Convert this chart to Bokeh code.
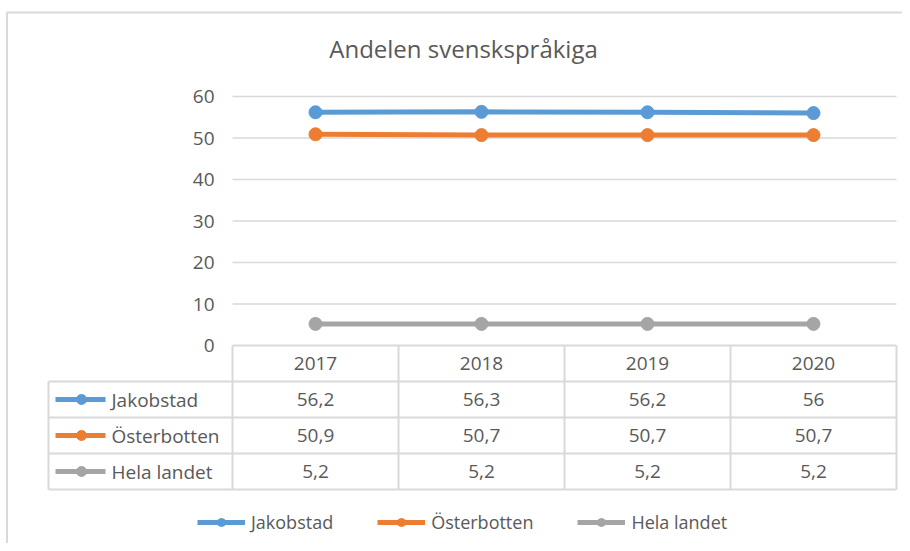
from bokeh.plotting import figure
from bokeh.models import Range1d, Legend, LegendItem
from bokeh.core.properties import value
from bokeh.embed import file_html
from bokeh.resources import INLINE

# ---------------- data ----------------
title_text = "Andelen svenskspråkiga"
years = ["2017", "2018", "2019", "2020"]
series_names = ["Jakobstad", "Österbotten", "Hela landet"]
jakobstad = [56.2, 56.3, 56.2, 56.0]
osterbotten = [50.9, 50.7, 50.7, 50.7]
hela_landet = [5.2, 5.2, 5.2, 5.2]
y_ticks = [0, 10, 20, 30, 40, 50, 60]

series_values = [jakobstad, osterbotten, hela_landet]
colors = ["#5B9BD5", "#ED7D31", "#A5A5A5"]

FONT = "Open Sans"
TEXT_COLOR = "#595959"
GRID = "#D9D9D9"

# ---------------- layout (pixels -> data) ----------------
W, H = 902, 543
OFF = 0
CAT_PX = 166.0
X0 = 315.0
VAL_PX = 249.0 / 60.0
Y0 = 345.0


def X(px):
    return (px - X0) / CAT_PX


def Y(py):
    return (Y0 - py) / VAL_PX


def fmt(v):
    return ("%g" % v).replace(".", ",")


p = figure(width=W, height=H, output_backend="svg", toolbar_location=None,
           x_range=Range1d(X(OFF), X(OFF + W)), y_range=Range1d(Y(OFF + H), Y(OFF)),
           min_border=0, x_axis_location=None, y_axis_location=None,
           outline_line_color=None, background_fill_color="white",
           border_fill_color="white")
p.grid.visible = False

n = len(years)
idx = list(range(n))
left_edge = -0.5
right_edge = n - 0.5

# chart outer border
p.segment(x0=[X(6.5), X(6)], y0=[Y(12), Y(12)],
          x1=[X(6.5), X(OFF + W)], y1=[Y(OFF + H), Y(12)],
          line_color="#D9D9D9", line_width=2)

# title
p.text(x=[X(463)], y=[Y(48)], text=[title_text], text_align="center",
       text_baseline="middle", text_font=value(FONT), text_font_size="24px",
       text_color=TEXT_COLOR)

# gridlines
gy = [t for t in y_ticks if t != 0]
p.segment(x0=[left_edge] * len(gy), x1=[right_edge] * len(gy), y0=gy, y1=gy,
          line_color=GRID, line_width=1.5)

# y tick labels
p.text(x=[X(214)] * len(y_ticks), y=y_ticks, text=[str(t) for t in y_ticks],
       text_align="right", text_baseline="middle", text_font=value(FONT),
       text_font_size="19px", text_color=TEXT_COLOR)

# series
legend_items = []
for name, vals, c in zip(series_names, series_values, colors):
    lr = p.line(x=idx, y=vals, line_color=c, line_width=5)
    sr = p.scatter(x=idx, y=vals, size=13, fill_color=c, line_color=c)
    legend_items.append(LegendItem(label=name, renderers=[lr, sr]))

# data table
row_tops = [345, 381, 417, 453, 489]
tl = dict(line_color=GRID, line_width=2)
p.segment(x0=[left_edge], x1=[right_edge], y0=[Y(row_tops[0])], y1=[Y(row_tops[0])], **tl)
hy = [Y(r) for r in row_tops[1:]]
p.segment(x0=[X(48)] * len(hy), x1=[right_edge] * len(hy), y0=hy, y1=hy, **tl)
p.segment(x0=[X(48)], x1=[X(48)], y0=[Y(row_tops[1])], y1=[Y(row_tops[-1])], **tl)
vx = [i - 0.5 for i in range(n + 1)]
p.segment(x0=vx, x1=vx, y0=[Y(row_tops[0])] * len(vx), y1=[Y(row_tops[-1])] * len(vx), **tl)

txt = dict(text_font=value(FONT), text_font_size="19px", text_color=TEXT_COLOR,
           text_baseline="middle")
p.text(x=idx, y=[Y(363)] * n, text=years, text_align="center", **txt)
for r, (name, vals, c) in enumerate(zip(series_names, series_values, colors)):
    cy = Y(399 + 36 * r)
    p.text(x=idx, y=[cy] * n, text=[fmt(v) for v in vals], text_align="center", **txt)
    p.line(x=[X(55), X(105)], y=[cy, cy], line_color=c, line_width=5)
    p.scatter(x=[X(81)], y=[cy], size=10, fill_color=c, line_color=c)
    p.text(x=[X(111)], y=[cy], text=[name], text_align="left", **txt)

legend = Legend(items=legend_items, orientation="horizontal", location=(197, 9),
                border_line_color=None, background_fill_alpha=0, padding=0, margin=0,
                glyph_width=48, glyph_height=20, label_standoff=6, spacing=44,
                label_text_font=FONT, label_text_font_size="18px",
                label_text_color=TEXT_COLOR)
p.add_layout(legend)

open("out.html", "w").write(file_html(p, INLINE))
